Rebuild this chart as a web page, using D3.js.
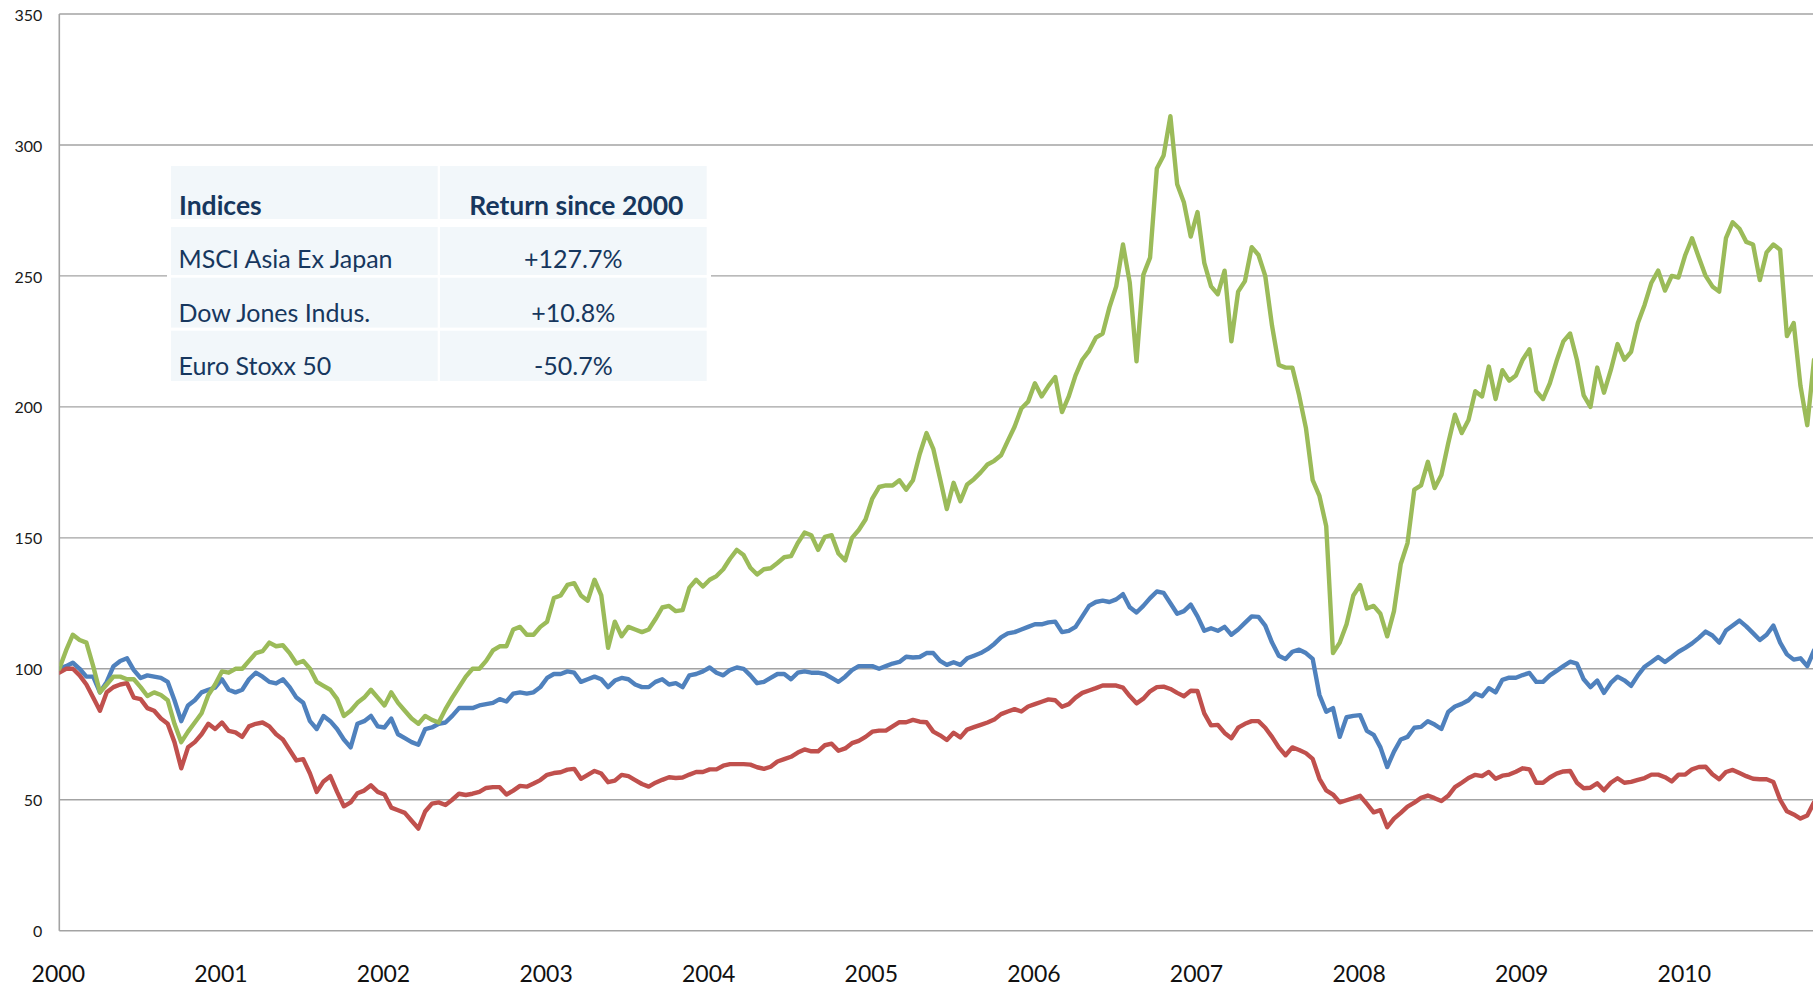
<!DOCTYPE html>
<html>
<head>
<meta charset="utf-8">
<script src="https://cdn.jsdelivr.net/npm/d3@7"></script>
<style>
  body { margin: 0; background: #ffffff; }
  svg { display: block; font-family: Lato, "Open Sans", "Liberation Sans", sans-serif; }
</style>
</head>
<body>
<svg id="chart" width="1813" height="987"></svg>
<script>
// ---------------- DATA ----------------
const startYear = 2000;
const pointsPerYear = 24;          // semi-monthly readings
const yearLabels = [2000, 2001, 2002, 2003, 2004, 2005, 2006, 2007, 2008, 2009, 2010];
const yTicks = [0, 50, 100, 150, 200, 250, 300, 350];

const msciAsia = [
  100,107,113,111,110,101,91,94,97,97,
  96,96,93,89.6,91,90,88,79,72,76,
  79.5,83,90,94,99,98.5,100,100,103,106,
  106.7,110,108.6,109,106,102,103,100,95,93.5,
  92,88.5,82,84,87,89,92,89,86,91,
  87,84,81,79,82,80.5,79.5,84.6,89,93,
  97,100,100,103,107,108.6,108.6,115,116,113,
  113,116,118,127,128,132,132.7,128,126,134,
  128,108,118,112.4,116,115,114,115,119,123.4,
  124,122,122.4,131,134,131.4,134,135.4,138,142,
  145.4,143.4,138.6,136,138,138.4,140.4,142.6,143,148,
  152,151,145.4,150.4,151,144,141.4,150,153,157,
  165,169.4,170,170,172,168.4,172,182,190,184,
  172.6,161,171,164,170.4,172.4,175,178,179.4,181.5,
  187,192.4,199.4,202,209,204,208,211.4,198,204,
  212,218,221.4,226.4,228,238,246,262,247.4,217.4,
  250.4,257,291,296,311,285,278,265,274.4,255,
  246,243,252,225,244,248,261,258,250,231,
  216,215,215,204.4,192,172,166,154.4,106,110,
  117,128,132,123,124,121,112.4,122,140,148,
  168.4,170,179,169,174,186,197,190,195,206,
  204,215.4,203,214,210,212,218,222,206,203,
  209,217.5,225,228,218,204.4,200,215,205.4,214,
  224,218,221,232,239,247.4,252,244.4,250,249.4,
  258,264.4,257,250,246,244,264.4,270.5,268,263,
  262,248.4,259,262,260,227,232,208,193,218
];

const dowJones = [
  100,101,102.3,100,97,97,91,95,101,103,
  104,99.5,96.5,97.5,97,96.5,95,88,80,86,
  88,91,92,92.8,96,92,91,92,96,98.5,
  97,95,94.4,96,93,89,87,80,77,82,
  80,77,73,70,79,80,82,78,77.6,81,
  75,73.5,72,71,77,77.6,79,79.5,82,85,
  85,85,86,86.5,87,88.4,87.5,90.5,91,90.5,
  91,93,96.5,98,98,99,98.5,95,96,97,
  96,93,95.5,96.5,96,94,93,93,95,96,
  94,94.5,93,97.5,98,99,100.5,98.5,97.5,99.5,
  100.5,100,97.5,94.5,95,96.5,98,98,96,98.5,
  99,98.5,98.5,98,96.5,95,97,99.5,101,101,
  101,100,101,102,102.6,104.6,104.3,104.5,106,106,
  103,101.5,102.5,101.5,104,105,106,107.5,109.5,112,
  113.5,114,115,116,117,117,117.7,118,114,114.5,
  116,120,124,125.5,126,125.5,126.5,128.5,123.5,121.5,
  124,127,129.5,129,125,121,122,124.5,120,114.5,
  115.5,114.5,116,113,115,117.5,120,119.8,116.5,110,
  105,103.7,106.5,107.3,106,103.8,90,83.6,85,74,
  81.5,82,82.3,76.3,74.8,70,62.5,68.4,73,74,
  77.5,77.8,80,78.7,77,83.5,85.6,86.6,88,90.6,
  89.5,92.6,91,95.8,96.6,96.6,97.6,98.4,95,95,
  97.5,99.2,101,102.7,102,96,93,95.5,90.8,94.6,
  97,95.6,93.5,97.5,100.8,102.6,104.5,102.6,104.5,106.5,
  108,109.7,111.8,114.2,112.7,110,114.6,116.5,118.4,116.2,
  113.6,111,113,116.5,110,105.5,103.5,104,101,107
];

const euroStoxx = [
  98.5,100,100,97.5,94,89,84,91,93,94,
  94.5,89,88.4,85,84,81,79,72,62,70,
  72,75,79,77,79.5,76.3,75.7,74,78,79,
  79.5,78,75,73,69,65,65.5,60,53,57,
  59,53,47.5,49,52.5,53.5,55.5,53,52,47,
  46,45,42,39,45.5,48.5,49,48,50,52.3,
  51.8,52.3,53,54.5,54.8,54.8,52,53.5,55.3,55,
  56.2,57.5,59.5,60.2,60.5,61.5,61.8,58,59.5,61,
  60,56.7,57.3,59.5,59,57.5,56,55,56.5,57.6,
  58.6,58.3,58.5,59.6,60.6,60.6,61.6,61.6,63,63.6,
  63.6,63.6,63.4,62.4,61.8,62.6,64.6,65.5,66.4,68,
  69.2,68.5,68.5,70.8,71.4,68.7,69.6,71.6,72.5,74,
  76,76.4,76.4,78,79.6,79.6,80.5,79.8,79.6,76,
  74.6,72.8,75.6,73.8,76.8,77.7,78.6,79.5,80.6,82.7,
  83.7,84.6,83.7,85.6,86.5,87.4,88.3,88,85.5,86.5,
  89,90.8,91.7,92.6,93.6,93.6,93.6,92.8,89.6,86.8,
  88.6,91.4,93,93.2,92.3,90.8,89.5,91.6,91.5,83,
  78.4,78.6,75.5,73.5,77.5,79,80,80,77.5,74,
  70,67,70,69,67.8,65.6,58,53.6,52,49,
  49.8,50.6,51.5,48.4,45.2,46,39.5,42.8,45,47.4,
  48.9,50.7,51.6,50.6,49.5,51.5,54.8,56.5,58.3,59.5,
  59,60.6,58,59.2,59.6,60.7,62,61.6,56.5,56.5,
  58.5,60,60.8,61,56.5,54.4,54.6,56.3,53.6,56.5,
  58.2,56.5,56.8,57.6,58.3,59.6,59.6,58.6,57,59.6,
  59.6,61.6,62.5,62.6,59.7,57.8,60.6,61.4,60.2,59,
  58,57.8,57.8,56.8,50,45.6,44.4,42.8,44,49
];

const seriesNames  = ["Dow Jones Indus.", "Euro Stoxx 50", "MSCI Asia Ex Japan"];
const seriesColors = ["#4F81BD", "#C0504D", "#9BBB59"];

const tableHeader  = ["Indices", "Return since 2000"];
const tableIndices = ["MSCI Asia Ex Japan", "Dow Jones Indus.", "Euro Stoxx 50"];
const tableReturns = ["+127.7%", "+10.8%", "-50.7%"];

// ---------------- LAYOUT ----------------
const W = 1813, H = 987;
const plotLeft = 59.3, plotRight = 1813;
const yearPx = 162.6;
const yBottom = 930.7, yTop = 14;

const svg = d3.select("#chart");

const x = d3.scaleLinear()
  .domain([startYear, startYear + 11])
  .range([plotLeft, plotLeft + 11 * yearPx]);
const y = d3.scaleLinear().domain([0, 350]).range([yBottom, yTop]);

svg.append("defs").append("clipPath").attr("id", "plotclip")
  .append("rect").attr("x", plotLeft).attr("y", 0)
  .attr("width", plotRight - plotLeft).attr("height", H);

// gridlines
svg.append("g").selectAll("line").data(yTicks).join("line")
  .attr("x1", plotLeft).attr("x2", plotRight)
  .attr("y1", d => y(d)).attr("y2", d => y(d))
  .attr("stroke", "#a3a3a3").attr("stroke-width", 1.4);

// left axis line
svg.append("line")
  .attr("x1", plotLeft).attr("x2", plotLeft)
  .attr("y1", y(350)).attr("y2", y(0))
  .attr("stroke", "#a3a3a3").attr("stroke-width", 1.6);

// y axis labels
const yAxis = svg.append("g")
  .attr("transform", `translate(${plotLeft},0)`)
  .call(d3.axisLeft(y).tickValues(yTicks).tickSize(0).tickPadding(17));
yAxis.select(".domain").remove();
yAxis.selectAll("text")
  .attr("font-family", "Lato, 'Open Sans', sans-serif")
  .attr("font-size", 16).attr("fill", "#1a1a1a").attr("dy", "0.38em");

// x axis labels
const xAxis = svg.append("g")
  .attr("transform", `translate(-1.5,${yBottom})`)
  .call(d3.axisBottom(x).tickValues(yearLabels).tickFormat(d3.format("d")).tickSize(0).tickPadding(0));
xAxis.select(".domain").remove();
xAxis.selectAll("text")
  .attr("font-family", "Lato, 'Open Sans', sans-serif")
  .attr("font-size", 23).attr("fill", "#111")
  .attr("dy", null).attr("y", 51);

// ---------------- TABLE ----------------
const tbl = svg.append("g");
tbl.append("rect").attr("x", 167).attr("y", 162).attr("width", 544).attr("height", 223).attr("fill", "#ffffff");
const col1 = [171, 437.7], col2 = [440, 706.7];
const rows = [[166, 219], [227, 275], [277.7, 327.6], [330.7, 381]];
const cellFill = "#F2F7FA";
const textColor = "#17375E";
rows.forEach(r => {
  [col1, col2].forEach(c => {
    tbl.append("rect").attr("x", c[0]).attr("y", r[0])
      .attr("width", c[1] - c[0]).attr("height", r[1] - r[0]).attr("fill", cellFill);
  });
});
const baselines = [215, 268, 321.7, 375];
tbl.append("text").attr("x", 179).attr("y", baselines[0]).text(tableHeader[0])
  .attr("font-size", 26.5).attr("font-weight", "bold").attr("fill", textColor);
tbl.append("text").attr("x", (col2[0] + col2[1]) / 2 + 3).attr("y", baselines[0]).text(tableHeader[1])
  .attr("text-anchor", "middle").attr("font-size", 26.5).attr("font-weight", "bold").attr("fill", textColor);
tableIndices.forEach((name, i) => {
  tbl.append("text").attr("x", 178.5).attr("y", baselines[i + 1]).text(name)
    .attr("font-size", 25).attr("fill", textColor);
  tbl.append("text").attr("x", (col2[0] + col2[1]) / 2).attr("y", baselines[i + 1]).text(tableReturns[i])
    .attr("text-anchor", "middle").attr("font-size", 25).attr("fill", textColor);
});

// ---------------- LINES ----------------
const seriesData = [dowJones, euroStoxx, msciAsia];
const line = d3.line()
  .x((d, i) => x(startYear + i / pointsPerYear))
  .y(d => y(d));

svg.append("g").attr("clip-path", "url(#plotclip)")
  .selectAll("path").data(seriesData).join("path")
  .attr("d", d => line(d))
  .attr("fill", "none")
  .attr("stroke", (d, i) => seriesColors[i])
  .attr("stroke-width", 4.4)
  .attr("stroke-linejoin", "round")
  .attr("stroke-linecap", "round");
</script>
</body>
</html>
